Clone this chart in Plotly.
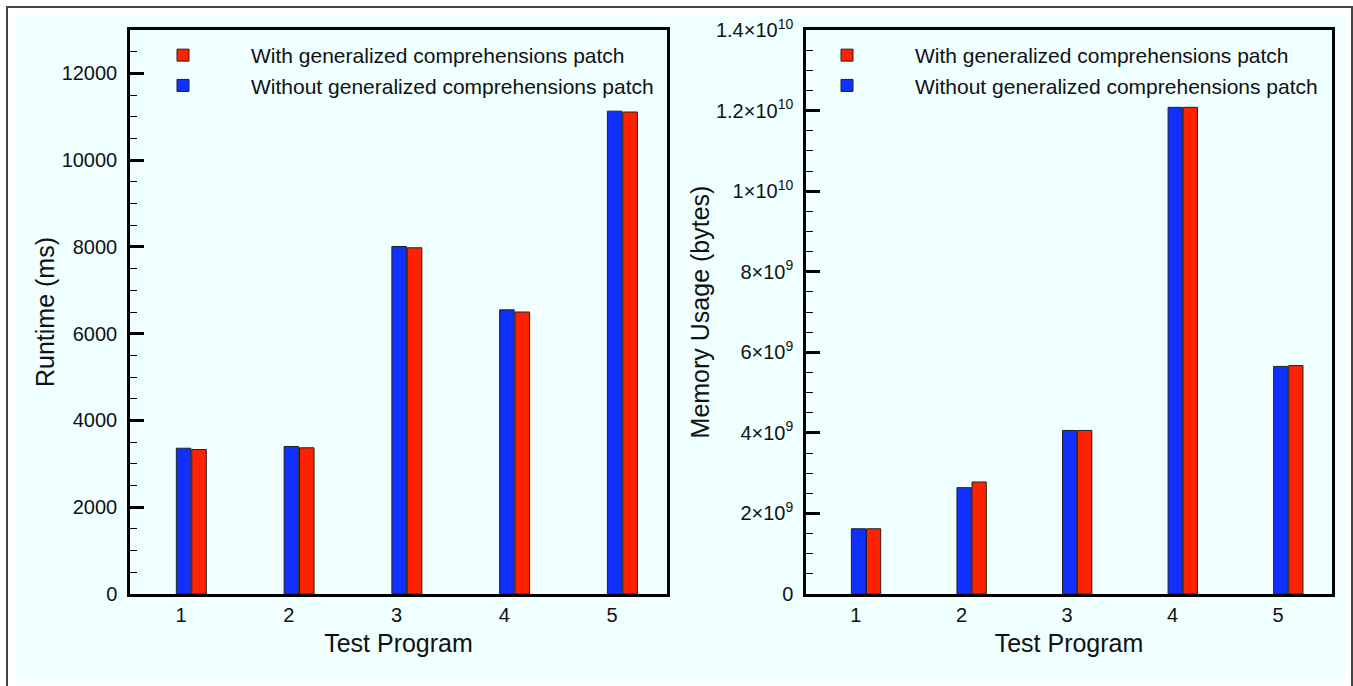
import plotly.graph_objects as go

programs = [1, 2, 3, 4, 5]
runtime_with = [3330, 3370, 7980, 6500, 11110]
runtime_without = [3360, 3400, 8010, 6550, 11130]
memory_with = [1.62e9, 2.78e9, 4.06e9, 12.08e9, 5.67e9]
memory_without = [1.62e9, 2.64e9, 4.06e9, 12.08e9, 5.65e9]

name_with = "With generalized comprehensions patch"
name_without = "Without generalized comprehensions patch"

runtime_ticks = [0, 2000, 4000, 6000, 8000, 10000, 12000]
runtime_ticktext = ["0", "2000", "4000", "6000", "8000", "10000", "12000"]
memory_ticks = [0, 2e9, 4e9, 6e9, 8e9, 1e10, 1.2e10, 1.4e10]
memory_ticktext = ["0", "2×10<sup>9</sup>", "4×10<sup>9</sup>", "6×10<sup>9</sup>",
                   "8×10<sup>9</sup>", "1×10<sup>10</sup>", "1.2×10<sup>10</sup>",
                   "1.4×10<sup>10</sup>"]

RED = "#FF2200"
BLUE = "#1030FF"
BG = "#F0FFFF"
FONT = "Liberation Sans, Arial, sans-serif"
TXT = "#111111"

fig = go.Figure()

def add_pair(xa, ya, leg, y_with, y_without):
    fig.add_trace(go.Bar(x=programs, y=y_with, name=name_with, xaxis=xa, yaxis=ya,
                         legend=leg, offset=0.1, width=0.135,
                         marker=dict(color=RED, line=dict(color="#222222", width=1))))
    fig.add_trace(go.Bar(x=programs, y=y_without, name=name_without, xaxis=xa, yaxis=ya,
                         legend=leg, offset=-0.043, width=0.135,
                         marker=dict(color=BLUE, line=dict(color="#222222", width=1))))

add_pair("x", "y", "legend", runtime_with, runtime_without)
add_pair("x2", "y2", "legend2", memory_with, memory_without)

W, H = 1353, 686
ydom = [(H - 594) / H, (H - 30) / H]

xcommon = dict(range=[0.527, 5.51], tickvals=programs, ticktext=[str(p) for p in programs],
               automargin=False,
               showgrid=False, zeroline=False, showline=True, linecolor="black", linewidth=2.5,
               mirror=True, ticks="", tickfont=dict(size=20, color=TXT), ticklabelstandoff=1,
               title=dict(text="Test Program", font=dict(size=25, color=TXT), standoff=10))
ycommon = dict(automargin=False,
               showgrid=False, zeroline=False, showline=True, linecolor="black", linewidth=2.5,
               mirror=True, ticks="inside", ticklen=14, tickwidth=2.5, tickcolor="black",
               tickfont=dict(size=20, color=TXT), ticklabelstandoff=6,
               minor=dict(ticks="inside", ticklen=7, tickwidth=1.2, tickcolor="black"))

fig.update_layout(
    width=W, height=H,
    margin=dict(l=0, r=0, t=0, b=0),
    paper_bgcolor="white", plot_bgcolor=BG,
    font=dict(family=FONT, color=TXT),
    barmode="overlay",
    xaxis=dict(domain=[130 / W, 667 / W], anchor="y", **xcommon),
    xaxis2=dict(domain=[806 / W, 1332 / W], anchor="y2", **xcommon),
    yaxis=dict(domain=ydom, anchor="x", range=[0, 13000], tickvals=runtime_ticks,
               ticktext=runtime_ticktext,
               title=dict(text="Runtime (ms)", font=dict(size=25, color=TXT), standoff=0),
               **{**ycommon, "minor": dict(ycommon["minor"], dtick=500, tick0=0)}),
    yaxis2=dict(domain=ydom, anchor="x2", range=[0, 1.4e10], tickvals=memory_ticks,
                ticktext=memory_ticktext,
                title=dict(text="Memory Usage (bytes)", font=dict(size=25, color=TXT), standoff=0),
                **{**ycommon, "minor": dict(ycommon["minor"], dtick=5e8, tick0=0)}),
    legend=dict(x=115 / W, y=1 - 35 / H, xanchor="left", yanchor="top",
                bgcolor="rgba(0,0,0,0)", font=dict(size=21, color=TXT),
                itemwidth=126, traceorder="normal"),
    legend2=dict(x=779 / W, y=1 - 35 / H, xanchor="left", yanchor="top",
                 bgcolor="rgba(0,0,0,0)", font=dict(size=21, color=TXT),
                 itemwidth=126, traceorder="normal"),
    shapes=[
        dict(type="rect", xref="paper", yref="paper", layer="below",
             x0=7 / W, x1=1352 / W, y0=-0.01, y1=1 - 7 / H,
             line=dict(color="#444444", width=2), fillcolor="white"),
        dict(type="rect", xref="paper", yref="paper", layer="below",
             x0=15 / W, x1=1345 / W, y0=1 - 681 / H, y1=1 - 15 / H,
             line=dict(width=0), fillcolor=BG),
    ],
)

fig.write_html("out.html", config=dict(displayModeBar=False),
               post_script="document.body.style.margin='0px';document.body.style.overflow='hidden';")
